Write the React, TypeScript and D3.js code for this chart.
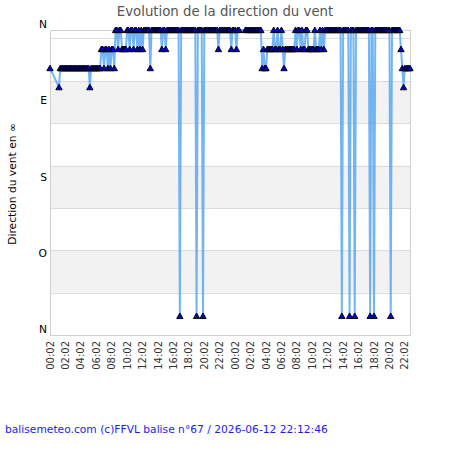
import React from "react";
import * as d3 from "d3";

const TITLE = "Evolution de la direction du vent";
const Y_TITLE = "Direction du vent en ∞";
const FOOTER = "balisemeteo.com (c)FFVL balise n°67 / 2026-06-12 22:12:46";

const X_TICK_LABELS = [
  "00:02", "02:02", "04:02", "06:02", "08:02", "10:02", "12:02", "14:02", "16:02", "18:02", "20:02", "22:02",
  "00:02", "02:02", "04:02", "06:02", "08:02", "10:02", "12:02", "14:02", "16:02", "18:02", "20:02", "22:02",
];
const X_TICK_STEP_MIN = 120;
const X_SPAN_MIN = 2800;
const SAMPLE_STEP_MIN = 10;

const Y_TICK_LABELS = ["N", "E", "S", "O", "N"];
const Y_TICK_DIRS = [0, 90, 180, 270, 360];

const N = 0;
const NNE = 22.5;
const NE = 45;
const ENE = 67.5;
const NNW = 337.5;
const _ = null;

// one value per 10-minute slot from 00:02 (null = no record)
const DIRS: (number | null)[] = [
  NE, _, _, _, _, _, _, ENE, NE, NE, NE, NE,
  NE, NE, NE, NE, NE, NE, NE, NE, NE, NE, NE, NE,
  NE, NE, NE, NE, NE, NE, NE, ENE, NE, NE, NE, NE,
  NE, NE, NE, NE, NNE, NNE, NE, NNE, NNE, NE, NNE, NE,
  NNE, NNE, NE, N, N, NNE, N, N, NNE, NNE, NNE, NNE,
  N, N, NNE, N, N, NNE, N, N, NNE, N, NNE, N,
  NNE, N, N, N, N, N, NE, N, N, N, N, N,
  N, N, N, NNE, N, N, NNE, N, N, N, N, N,
  N, N, N, N, N, NNW, N, N, N, N, N, N,
  N, N, N, N, N, N, NNW, N, N, N, N, NNW,
  N, N, N, N, N, N, N, N, N, N, N, NNE,
  N, N, N, N, N, N, N, N, N, NNE, N, N,
  N, NNE, N, N, _, _, _, _, N, N, N, N,
  N, N, N, N, N, N, N, N, N, NE, NNE, NE,
  NE, NNE, NNE, NNE, NNE, NNE, N, NNE, NNE, N, NNE, NNE,
  N, NNE, NE, NNE, NNE, NNE, NNE, NNE, NNE, NNE, NNE, N,
  NNE, N, N, NNE, N, NNE, NNE, N, N, NNE, NNE, NNE,
  NNE, NNE, N, NNE, NNE, NNE, N, NNE, N, NNE, N, N,
  N, N, N, N, N, N, N, N, N, N, N, NNW,
  N, N, N, N, N, NNW, N, N, N, NNW, N, N,
  N, N, N, N, N, N, N, N, N, NNW, N, N,
  NNW, N, N, N, N, N, N, N, N, N, N, N,
  N, NNW, N, N, N, N, N, N, N, NNE, NE, ENE,
  NE, NE, NE, NE, NE,
];

const W = 450;
const H = 450;
const M = { left: 50, right: 410, top: 30, bottom: 335 };

export default function App() {
  const x = d3.scaleLinear().domain([0, X_SPAN_MIN]).range([M.left, M.right]);
  // JpGraph-like value scale: plotted value = 360 - direction
  const yv = d3.scaleLinear().domain([0, 360]).range([M.bottom, M.top]);
  const yDir = (d: number) => yv(360 - d);

  const pts = DIRS.map((d, i) => ({ t: i * SAMPLE_STEP_MIN, d })).filter(
    (p) => p.d !== null
  ) as { t: number; d: number }[];

  const line = d3
    .line<{ t: number; d: number }>()
    .x((p) => x(p.t))
    .y((p) => yDir(p.d));

  const grid = yv.ticks(7).filter((v) => v > 0 && v < 360);
  const bands: [number, number][] = [];
  for (let v = 50; v + 50 <= 360; v += 100) bands.push([v, v + 50]);

  const tri = "M0,-3 L3.2,2.6 L-3.2,2.6 Z";
  const font = "DejaVu Sans, sans-serif";

  return (
    <div style={{ position: "absolute", left: 0, top: 0 }}>
      <svg width={W} height={H} style={{ display: "block", background: "#fff" }}>
        <rect x={0} y={0} width={W} height={H} fill="#fff" />
        {bands.map(([a, b], i) => (
          <rect
            key={"b" + i}
            x={M.left}
            y={yv(b)}
            width={M.right - M.left}
            height={yv(a) - yv(b)}
            fill="#f2f2f2"
          />
        ))}
        {grid.map((v) => (
          <line
            key={"g" + v}
            x1={M.left}
            x2={M.right}
            y1={Math.round(yv(v)) + 0.5}
            y2={Math.round(yv(v)) + 0.5}
            stroke="#dcdcdc"
            strokeWidth={1}
          />
        ))}
        <rect
          x={M.left + 0.5}
          y={M.top + 0.5}
          width={M.right - M.left}
          height={M.bottom - M.top}
          fill="none"
          stroke="#d0d0d0"
          strokeWidth={1}
        />
        <path d={line(pts) || ""} fill="none" stroke="#5aa8f2" strokeOpacity={0.85} strokeWidth={2} />
        {pts.map((p, i) => (
          <path
            key={"m" + i}
            d={tri}
            transform={`translate(${x(p.t)},${yDir(p.d)})`}
            fill="#0000dd"
            stroke="#000"
            strokeWidth={0.9}
          />
        ))}
        <text x={225} y={15.5} textAnchor="middle" fontFamily={font} fontSize={13.3} fill="#555">
          {TITLE}
        </text>
        {Y_TICK_LABELS.map((l, i) => (
          <text
            key={"yl" + i}
            x={47}
            y={yDir(Y_TICK_DIRS[i]) - 2}
            textAnchor="end"
            fontFamily={font}
            fontSize={10.7}
            fill="#000"
          >
            {l}
          </text>
        ))}
        <text
          transform={`translate(12,184) rotate(-90)`}
          textAnchor="middle"
          dominantBaseline="central"
          fontFamily={font}
          fontSize={10.7}
          fill="#000"
        >
          {Y_TITLE}
        </text>
        {X_TICK_LABELS.map((l, i) => (
          <text
            key={"xl" + i}
            transform={`translate(${x(i * X_TICK_STEP_MIN)},341) rotate(-90)`}
            textAnchor="end"
            dominantBaseline="central"
            fontFamily={font}
            fontSize={10}
            fill="#333"
          >
            {l}
          </text>
        ))}
        <text x={5} y={433} fontFamily={font} fontSize={10.7} fill="#1a1aff">
          {FOOTER}
        </text>
      </svg>
    </div>
  );
}
